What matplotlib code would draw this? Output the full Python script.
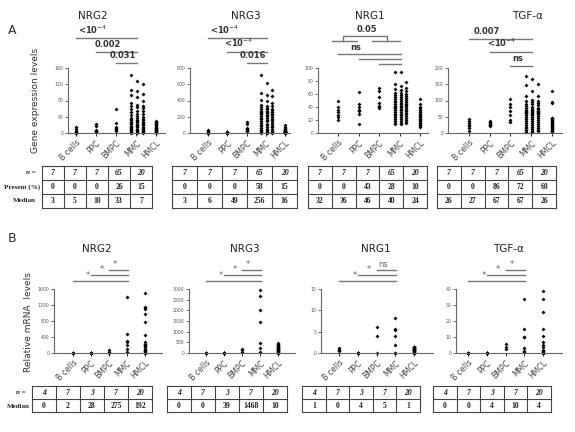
import numpy as np
import matplotlib.pyplot as plt
from matplotlib.transforms import blended_transform_factory

W, H = 575, 432
fig = plt.figure(figsize=(W / 100, H / 100), dpi=100)
fig.patch.set_facecolor('white')

categories = ['B cells', 'PPC', 'BMPC', 'MMC', 'HMCL']

# ---------------- panel A : gene expression levels ----------------
a_nrg2 = [[0, 1, 3, 3, 5, 10, 14],
          [2, 4, 5, 5, 8, 18, 22],
          [5, 8, 10, 12, 15, 25, 60],
          [106, 67, 54, 32, 28, 22, 17, 8, 93, 64, 48, 35, 22, 7,
           143, 128, 120, 104, 95, 88, 80, 75, 70, 66, 62, 58, 55, 52, 48, 45, 42, 40, 38, 36,
           34, 33, 31, 30, 28, 26, 25, 24, 22, 20, 19, 18, 16, 15, 14, 13, 12, 11, 10, 9,
           8, 7, 6, 5, 4, 3, 2, 2, 1, 1, 0],
          [30, 28, 27, 25, 23, 21, 19, 17, 15, 13, 12, 10, 9, 8, 7, 6, 5, 3, 2, 1]]
a_nrg3 = [[0, 2, 3, 3, 10, 20, 35],
          [2, 4, 5, 6, 8, 12, 18],
          [20, 30, 40, 49, 60, 110, 135],
          [709, 615, 525, 492, 471, 459, 402, 398, 369, 348, 335, 328, 320, 310, 300, 295, 290,
           280, 275, 266, 262, 260, 258, 256, 250, 245, 238, 234, 225, 220, 212, 205, 198, 190,
           180, 172, 168, 164, 155, 148, 143, 135, 125, 115, 108, 103, 95, 88, 82, 75, 68, 60,
           55, 49, 41, 35, 30, 25, 20, 15, 10, 8, 5, 3, 0],
          [100, 80, 60, 50, 40, 35, 30, 25, 20, 18, 16, 14, 12, 10, 8, 6, 5, 3, 2, 0]]
a_nrg1 = [[20, 24, 28, 32, 35, 40, 49],
          [14, 30, 34, 36, 40, 45, 63],
          [38, 40, 42, 46, 55, 64, 69],
          [94, 94, 78, 76, 73, 70, 68, 66, 64, 62, 61, 60, 59, 58, 57, 56, 55, 54, 53, 52,
           51, 50, 49, 48, 47, 46, 45, 45, 44, 43, 42, 41, 40, 40, 39, 38, 37, 36, 35, 34,
           33, 32, 31, 30, 30, 29, 28, 27, 26, 25, 24, 23, 22, 21, 20, 19, 18, 17, 16, 15,
           15, 14, 14, 36, 42],
          [52, 44, 40, 38, 36, 35, 33, 30, 28, 26, 24, 22, 21, 20, 18, 16, 15, 13, 12, 10]]
a_tgfa = [[5, 15, 22, 26, 30, 38, 44],
          [22, 24, 26, 27, 30, 35, 38],
          [35, 40, 55, 67, 80, 90, 105],
          [176, 167, 152, 149, 128, 113, 113, 103, 100, 97, 95, 92, 90, 88, 85, 82, 80, 78,
           77, 75, 73, 72, 70, 69, 68, 67, 67, 66, 65, 64, 63, 62, 62, 61, 60, 58, 56, 55, 52,
           50, 48, 46, 44, 42, 40, 38, 36, 34, 31, 30, 28, 26, 24, 22, 20, 18, 15, 14, 12, 10,
           8, 6, 5, 4, 3],
          [130, 95, 93, 47, 45, 42, 40, 38, 35, 30, 27, 25, 22, 20, 18, 15, 12, 8, 5, 2]]

a_yticks_nrg2 = [0, 40, 80, 120, 160]
a_yticks_nrg3 = [0, 200, 400, 600, 800]
a_yticks_nrg1 = [0, 20, 40, 60, 80, 100]
a_yticks_tgfa = [0, 50, 100, 150, 200]

a_sig_nrg2 = [(0, 3, '<10$^{-4}$'), (1, 3, '0.002'), (2, 3, '0.031')]
a_sig_nrg3 = [(0, 3, '<10$^{-4}$'), (1, 3, '<10$^{-4}$'), (2, 3, '0.016')]
a_sig_nrg1 = [(0, 3, 'ns'), (1, 3, ''), (2, 3, '')]
a_sig_tgfa = [(0, 3, '0.007'), (1, 3, '<10$^{-4}$'), (2, 3, 'ns')]

a_n = [7, 7, 7, 65, 20]
a_present_nrg2 = [0, 0, 0, 26, 15]
a_present_nrg3 = [0, 0, 0, 58, 15]
a_present_nrg1 = [0, 0, 43, 28, 10]
a_present_tgfa = [0, 0, 86, 72, 60]
a_median_nrg2 = [3, 5, 10, 33, 7]
a_median_nrg3 = [3, 6, 49, 256, 16]
a_median_nrg1 = [32, 36, 46, 40, 24]
a_median_tgfa = [26, 27, 67, 67, 26]

# ---------------- panel B : relative mRNA levels ----------------
b_nrg2 = [[0, 0, 0, 5],
          [0, 1, 2, 2, 5, 8, 10],
          [10, 28, 80],
          [17, 100, 207, 274, 300, 473, 1393],
          [0, 10, 17, 40, 60, 83, 110, 141, 170, 192, 207, 230, 265, 440, 763, 970, 1100, 1130, 1160, 1509]]
b_nrg3 = [[0, 0, 0, 0],
          [0, 0, 0, 0, 0, 0, 0],
          [39, 120, 170],
          [46, 228, 472, 1468, 1995, 2680, 2954],
          [0, 10, 20, 40, 60, 80, 100, 120, 150, 180, 200, 220, 250, 280, 300, 330, 350, 380, 420, 457]]
b_nrg1 = [[0.4, 0.6, 0.8, 1.1],
          [0, 0, 0, 0, 0, 0, 0],
          [0, 4.0, 6.0],
          [0, 0, 1.8, 4.0, 5.5, 5.6, 8.2],
          [0, 0, 0, 0, 0.1, 0.2, 0.3, 0.4, 0.5, 0.6, 0.7, 0.8, 0.9, 1.0, 1.0, 1.1, 1.2, 1.3, 1.3, 1.4]]
b_tgfa = [[0, 0, 0, 0],
          [0, 0, 0, 0, 0, 0, 0],
          [2.2, 4.0, 5.5],
          [0.4, 1.0, 3.0, 10, 10, 15.3, 34],
          [0, 0, 0, 0, 0, 0, 0, 0, 0, 0.8, 1, 2, 4, 5, 6.7, 10.4, 15, 25.5, 33.5, 38.8]]

b_yticks_nrg2 = [0, 400, 800, 1200, 1600]
b_yticks_nrg3 = [0, 500, 1000, 1500, 2000, 2500, 3000]
b_yticks_nrg1 = [0, 5, 10, 15]
b_yticks_tgfa = [0, 10, 20, 30, 40]

b_sig_nrg2 = [(0, 3, '*'), (1, 3, '*'), (2, 3, '*')]
b_sig_nrg3 = [(0, 3, '*'), (1, 3, '*'), (2, 3, '*')]
b_sig_nrg1 = [(0, 3, '*'), (1, 3, '*'), (2, 3, 'ns')]
b_sig_tgfa = [(0, 3, '*'), (1, 3, '*'), (2, 3, '*')]

b_n = [4, 7, 3, 7, 20]
b_median_nrg2 = [0, 2, 28, 275, 192]
b_median_nrg3 = [0, 0, 39, 1468, 10]
b_median_nrg1 = [1, 0, 4, 5, 1]
b_median_tgfa = [0, 0, 4, 10, 4]


def add_ax(left, top, width, height):
    return fig.add_axes([left / W, 1 - (top + height) / H, width / W, height / H])


def ftext(x, y, s, **kw):
    fig.text(x / W, 1 - y / H, s, **kw)


def scatter_panel(left, top, width, height, xlim, groups, yticks, title, title_x, title_y):
    ax = add_ax(left, top, width, height)
    ax.set_facecolor('none')
    for i, vals in enumerate(groups):
        vals = np.asarray(vals, dtype=float)
        if len(vals) > 30:
            order = np.argsort(-vals)
            offs = np.zeros(len(vals))
            offs[order] = np.array([-0.28, 0.0, 0.28])[np.arange(len(vals)) % 3]
            xs = i + 0.05 + offs
        else:
            xs = np.full(len(vals), float(i))
        ax.plot(xs, vals, 'D', color='black', markersize=2.0, markeredgewidth=0, clip_on=False)
    ax.set_xlim(*xlim)
    ax.set_ylim(yticks[0], yticks[-1])
    ax.set_yticks(yticks)
    ax.set_yticklabels([str(t) for t in yticks], fontsize=3.3, color='#555555')
    ax.set_xticks(range(len(categories)))
    ax.set_xticklabels(categories, rotation=45, ha='right', rotation_mode='anchor',
                       fontsize=5.6, color='#444444')
    ax.tick_params(axis='y', length=2, width=0.6, pad=1.5, colors='#555555')
    ax.tick_params(axis='x', length=2, width=0.6, pad=2)
    for s in ['top', 'right']:
        ax.spines[s].set_visible(False)
    for s in ['left', 'bottom']:
        ax.spines[s].set_color('#666666')
        ax.spines[s].set_linewidth(0.8)
    ftext(title_x, title_y, title, ha='center', va='center', fontsize=7.5, color='#222222')
    return ax


def sig_bars(ax, sigs, heights, text_dy, fontsize, bold, txt_color):
    tr = blended_transform_factory(ax.transData, ax.transAxes)
    for (i, j, lab), h in zip(sigs, heights):
        ax.plot([i, j + 0.05], [h, h], color='#777777', lw=1.0, transform=tr, clip_on=False)
        if lab:
            ax.text(i + 0.25 * (j - i) + 0.1, h + text_dy, lab, transform=tr, ha='center', va='bottom',
                    fontsize=fontsize, fontweight='bold' if bold else 'normal', color=txt_color)


def draw_table(left, top, width, row_h, rows):
    nrow = len(rows)
    ax = add_ax(left, top, width, row_h * nrow)
    ax.set_xlim(0, 5)
    ax.set_ylim(nrow, 0)
    ax.set_xticks([])
    ax.set_yticks([])
    for s in ax.spines.values():
        s.set_linewidth(0.8)
        s.set_color('#444444')
    ax.vlines(range(1, 5), 0, nrow, color='#444444', lw=0.8)
    ax.hlines(range(1, nrow), 0, 5, color='#444444', lw=0.8)
    for r, row in enumerate(rows):
        for c, v in enumerate(row):
            ax.text(c + 0.5, r + 0.52, str(v), ha='center', va='center', fontsize=5.5,
                    fontweight='bold', family='Liberation Serif',
                    style='italic' if r == 0 else 'normal', color='#222222')


# ---------- panel A ----------
ftext(12, 30, 'A', fontsize=9, ha='center', va='center', color='#333333')
axA1 = scatter_panel(68, 68, 97, 65, (-0.4, 4.45), a_nrg2, a_yticks_nrg2, 'NRG2', 93, 16)
axA2 = scatter_panel(190, 68, 100, 65, (-0.94, 4.26), a_nrg3, a_yticks_nrg3, 'NRG3', 246, 16)
axA3 = scatter_panel(318, 68, 110, 65, (-0.98, 4.39), a_nrg1, a_yticks_nrg1, 'NRG1', 370, 16)
axA4 = scatter_panel(448, 68, 114, 65, (-1.0, 4.49), a_tgfa, a_yticks_tgfa, 'TGF-\u03b1', 527, 16)

sig_bars(axA1, a_sig_nrg2, [1.46, 1.25, 1.08], 0.04, 6, True, '#333333')
sig_bars(axA2, a_sig_nrg3, [1.46, 1.25, 1.08], 0.04, 6, True, '#333333')
sig_bars(axA3, a_sig_nrg1, [1.215, 1.14, 1.06], 0.03, 6, True, '#333333')
sig_bars(axA4, a_sig_tgfa, [1.45, 1.25, 1.03], 0.04, 6, True, '#333333')

# grouped comparison (B cells + PPC vs BMPC + MMC) on NRG1
tr = blended_transform_factory(axA3.transData, axA3.transAxes)
axA3.plot([-0.3, 0.93], [1.415, 1.415], color='#777777', lw=1.0, transform=tr, clip_on=False)
axA3.plot([1.66, 3.02], [1.415, 1.415], color='#777777', lw=1.0, transform=tr, clip_on=False)
axA3.plot([0.24, 0.24, 2.39, 2.39], [1.415, 1.49, 1.49, 1.415], color='#777777', lw=1.0,
          transform=tr, clip_on=False)
axA3.text(1.4, 1.52, '0.05', transform=tr, ha='center', va='bottom', fontsize=6,
          fontweight='bold', color='#333333')

ftext(35, 100, 'Gene expression levels', rotation=90, ha='center', va='center',
      fontsize=6.5, color='#333333')

draw_table(42, 166, 110, 14, [a_n, a_present_nrg2, a_median_nrg2])
draw_table(172, 166, 125, 14, [a_n, a_present_nrg3, a_median_nrg3])
draw_table(308, 166, 119, 14, [a_n, a_present_nrg1, a_median_nrg1])
draw_table(437, 166, 119, 14, [a_n, a_present_tgfa, a_median_tgfa])

lab_kw = dict(ha='right', va='center', fontsize=5.0, fontweight='bold',
              family='Liberation Serif', color='#222222')
ftext(36, 173, 'n =', style='italic', **lab_kw)
ftext(40, 187, 'Present (%)', **lab_kw)
ftext(36, 201, 'Median', **lab_kw)

# ---------- panel B ----------
ftext(12, 238, 'B', fontsize=9, ha='center', va='center', color='#333333')
axB1 = scatter_panel(54, 289, 108, 64, (-1.05, 4.95), b_nrg2, b_yticks_nrg2, 'NRG2', 97, 249)
axB2 = scatter_panel(189, 289, 106, 64, (-0.94, 4.94), b_nrg3, b_yticks_nrg3, 'NRG3', 245, 249)
axB3 = scatter_panel(321, 289, 112, 64, (-0.96, 5.0), b_nrg1, b_yticks_nrg1, 'NRG1', 376, 249)
axB4 = scatter_panel(456, 289, 106, 64, (-0.64, 5.01), b_tgfa, b_yticks_tgfa, 'TGF-\u03b1', 508, 249)

for ax, sigs in zip([axB1, axB2, axB3, axB4], [b_sig_nrg2, b_sig_nrg3, b_sig_nrg1, b_sig_tgfa]):
    sig_bars(ax, sigs, [1.125, 1.22, 1.30], 0.015, 6, False, '#666666')

ftext(29, 322, 'Relative mRNA  levels', rotation=90, ha='center', va='center',
      fontsize=6.5, color='#333333')

draw_table(32, 386, 120, 13, [b_n, b_median_nrg2])
draw_table(167, 386, 120, 13, [b_n, b_median_nrg3])
draw_table(302, 386, 118, 13, [b_n, b_median_nrg1])
draw_table(433, 386, 118, 13, [b_n, b_median_tgfa])

ftext(26, 392, 'n =', style='italic', **lab_kw)
ftext(30, 406, 'Median', **lab_kw)

fig.savefig('out.png', dpi=100)
